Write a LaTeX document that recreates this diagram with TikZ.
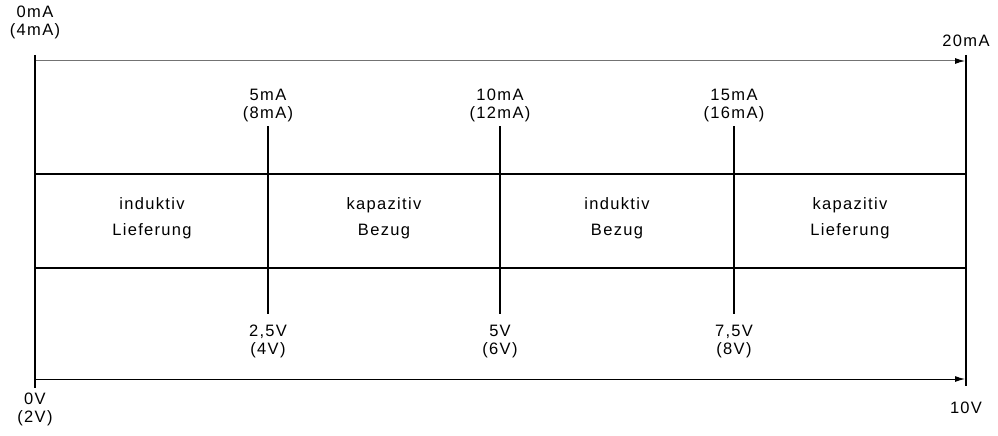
\documentclass[tikz,border=0pt]{standalone}
\usepackage{fontspec}
\setmainfont[LetterSpace=8]{Liberation Sans}
\usetikzlibrary{arrows.meta}
\begin{document}
\begin{tikzpicture}[x=1pt,y=-1pt,
  bar/.style={line width=2.6pt},
  scalearrow/.style={line width=1pt,-{Latex[length=10pt,width=6pt,color=black]}},
  lbl/.style={font=\fontsize{16.5}{18}\selectfont,align=center,inner sep=0pt},
  zone/.style={font=\fontsize{16.5}{26}\selectfont,align=center,inner sep=0pt}]
\useasboundingbox (0,0) rectangle (998,436);
% end bars
\coordinate (L1) at (35,55);
\coordinate (L2) at (35,388);
\coordinate (R1) at (966,55);
\coordinate (R2) at (966,386);
\draw[bar] (L1) -- (L2);
\draw[bar] (R1) -- (R2);
% scale arrows
\coordinate (ta) at (36,61);
\coordinate (tb) at (965,61);
\coordinate (ba) at (36,379);
\coordinate (bb) at (965,379);
\draw[scalearrow,draw=black!55] (ta) -- (tb);
\draw[scalearrow] (ba) -- (bb);
% band borders
\coordinate (h1a) at (35,174);
\coordinate (h1b) at (966,174);
\coordinate (h2a) at (35,268);
\coordinate (h2b) at (966,268);
\draw[bar] (h1a) -- (h1b);
\draw[bar] (h2a) -- (h2b);
% division marks
\foreach \n/\x in {a/268,b/500,c/734}{
  \coordinate (\n1) at (\x,126);
  \coordinate (\n2) at (\x,314);
  \draw[bar] (\n1) -- (\n2);
}
% current labels
\node[lbl,anchor=south] (t0) at (35,39) {0mA\\(4mA)};
\node[lbl,anchor=south] (t20) at (966,47) {20mA};
\node[lbl,anchor=south] (t5) at (268,122) {5mA\\(8mA)};
\node[lbl,anchor=south] (t10) at (500,122) {10mA\\(12mA)};
\node[lbl,anchor=south] (t15) at (734,122) {15mA\\(16mA)};
% voltage labels
\node[lbl,anchor=north] (v25) at (268,325) {2,5V\\(4V)};
\node[lbl,anchor=north] (v5) at (500,325) {5V\\(6V)};
\node[lbl,anchor=north] (v75) at (734,325) {7,5V\\(8V)};
\node[lbl,anchor=north] (v0) at (35,393) {0V\\(2V)};
\node[lbl,anchor=north] (v10) at (966,402) {10V};
% zones
\node[zone] (z1) at (152,218) {induktiv\\Lieferung};
\node[zone] (z2) at (384,218) {kapazitiv\\Bezug};
\node[zone] (z3) at (617,218) {induktiv\\Bezug};
\node[zone] (z4) at (850,218) {kapazitiv\\Lieferung};
\end{tikzpicture}
\end{document}
